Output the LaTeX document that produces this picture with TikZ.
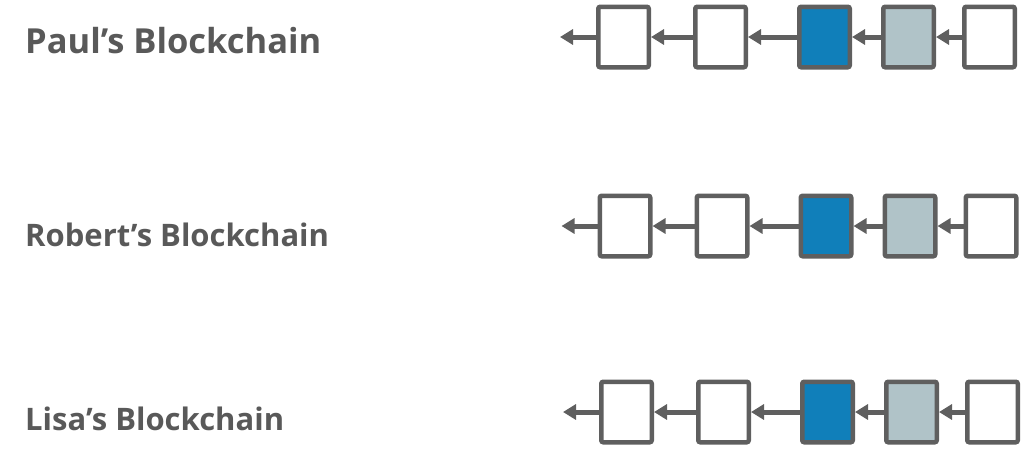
\documentclass[tikz,border=0pt]{standalone}
\usepackage{fontspec}
\setmainfont{Open Sans}
\usetikzlibrary{arrows.meta, positioning}
\definecolor{chaingrey}{HTML}{5F5F5F}
\definecolor{textgrey}{HTML}{595959}
\definecolor{blockblue}{HTML}{107FBA}
\definecolor{blockpale}{HTML}{B0C3C8}
\tikzset{
    block/.style={
        draw=chaingrey,
        fill=white,
        line width=4.5pt,
        rounded corners=2pt,
        minimum width=50.5pt,
        minimum height=60.5pt,
        inner sep=0pt
    },
    link/.style={-{Triangle[length=13pt, width=15pt]}, line width=5pt, draw=chaingrey},
    title/.style={text=textgrey, anchor=base west, inner sep=0pt}
}

\begin{document}
\begin{tikzpicture}[x=1pt, y=-1pt]
\useasboundingbox (0,0) rectangle (1025,464);

\foreach \r/\who/\sz/\base/\mid/\dx in {p/Paul/34.5/53/37/0, r/Robert/31/246/226/1.5, l/Lisa/31/430/412/3} {
  \node[title, font=\fontsize{\sz}{\sz}\selectfont\bfseries] (\r-name) at (25,\base) {\who's Blockchain};

  \node[block] (\r1) at (623.5+\dx,\mid) {};
  \node[block, right=42pt of \r1] (\r2) {};
  \node[block, fill=blockblue, right=49pt of \r2] (\r3) {};
  \node[block, fill=blockpale, right=29pt of \r3] (\r4) {};
  \node[block, right=26pt of \r4] (\r5) {};
  \coordinate[left=36pt of \r1] (\r0);

  \draw[link] (\r1.west) -- (\r0);
  \draw[link] (\r2.west) -- (\r1.east);
  \draw[link] (\r3.west) -- (\r2.east);
  \draw[link] (\r4.west) -- (\r3.east);
  \draw[link] (\r5.west) -- (\r4.east);
}
\end{tikzpicture}
\end{document}
